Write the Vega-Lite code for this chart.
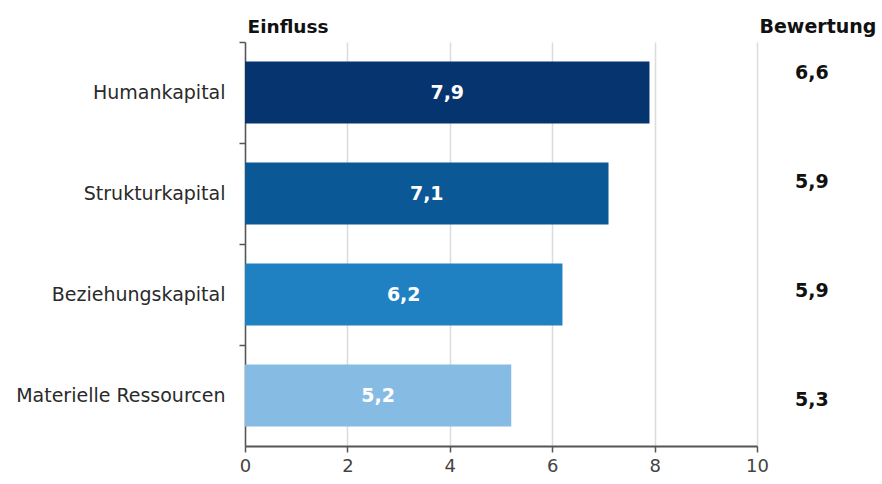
{
  "$schema": "https://vega.github.io/schema/vega-lite/v6.json",
  "autosize": "none",
  "width": 512,
  "height": 404,
  "padding": {"left": 245, "top": 42, "right": 125, "bottom": 38},
  "background": "white",
  "config": {
    "font": "DejaVu Sans",
    "view": {"stroke": null},
    "locale": {"number": {"decimal": ",", "thousands": ".", "grouping": [3], "currency": ["", " €"]}}
  },
  "data": {
    "values": [
      {"kategorie": "Humankapital", "einfluss": 7.9, "bewertung": 6.6},
      {"kategorie": "Strukturkapital", "einfluss": 7.1, "bewertung": 5.9},
      {"kategorie": "Beziehungskapital", "einfluss": 6.2, "bewertung": 5.9},
      {"kategorie": "Materielle Ressourcen", "einfluss": 5.2, "bewertung": 5.3}
    ]
  },
  "layer": [
    {
      "mark": {"type": "bar"},
      "encoding": {
        "y": {
          "field": "kategorie",
          "type": "nominal",
          "sort": null,
          "scale": {"paddingInner": 0.386, "paddingOuter": 0.193},
          "axis": {
            "orient": "left",
            "title": "Einfluss",
            "titleAngle": 0,
            "titleAlign": "left",
            "titleBaseline": "alphabetic",
            "titleX": 2,
            "titleY": -10,
            "titleFontSize": 18.5,
            "titleFontWeight": "bold",
            "titleColor": "#111",
            "labelFontSize": 19,
            "labelLimit": 300,
            "labelColor": "#2a2a2a",
            "labelPadding": 14,
            "domainColor": "#555",
            "domainWidth": 1.5,
            "tickColor": "#555",
            "tickWidth": 1.5,
            "tickSize": 6,
            "bandPosition": -0.314
          }
        },
        "x": {
          "field": "einfluss",
          "type": "quantitative",
          "scale": {"domain": [0, 10], "nice": false},
          "axis": {
            "values": [0, 2, 4, 6, 8, 10],
            "title": null,
            "grid": true,
            "gridColor": "#dcdcdc",
            "gridWidth": 1.5,
            "domainColor": "#555",
            "domainWidth": 1.8,
            "tickColor": "#555",
            "tickWidth": 1.5,
            "tickSize": 6,
            "labelFontSize": 18,
            "labelColor": "#444",
            "labelPadding": 5,
            "labelFlush": false
          }
        },
        "color": {
          "field": "kategorie",
          "type": "nominal",
          "sort": null,
          "scale": {
            "domain": ["Humankapital", "Strukturkapital", "Beziehungskapital", "Materielle Ressourcen"],
            "range": ["#06346e", "#0a5896", "#1f81c2", "#86bce4"]
          },
          "legend": null
        }
      }
    },
    {
      "mark": {"type": "text", "color": "white", "fontWeight": "bold", "fontSize": 19, "baseline": "middle", "align": "center"},
      "encoding": {
        "y": {
          "field": "kategorie",
          "type": "nominal",
          "sort": null,
          "scale": {"paddingInner": 0.386, "paddingOuter": 0.193},
          "axis": null
        },
        "x": {"field": "einfluss", "type": "quantitative", "stack": "zero", "bandPosition": 0.5},
        "text": {"field": "einfluss", "type": "quantitative", "format": ".1f"}
      }
    },
    {
      "mark": {"type": "text", "color": "#111", "fontWeight": "bold", "fontSize": 19, "baseline": "middle", "align": "center"},
      "encoding": {
        "y": {
          "field": "kategorie",
          "type": "nominal",
          "sort": null,
          "scale": {"type": "point", "padding": 0.353, "align": 0.4},
          "axis": {
            "orient": "right",
            "title": "Bewertung",
            "titleAngle": 0,
            "titleAlign": "left",
            "titleBaseline": "alphabetic",
            "titleX": 2,
            "titleY": -10,
            "titleFontSize": 19,
            "titleFontWeight": "bold",
            "titleColor": "#111",
            "labels": false,
            "ticks": false,
            "domain": false,
            "grid": false
          }
        },
        "x": {"datum": 11.07, "type": "quantitative"},
        "text": {"field": "bewertung", "type": "quantitative", "format": ".1f"}
      }
    }
  ],
  "resolve": {"scale": {"y": "independent"}, "axis": {"y": "independent"}}
}
